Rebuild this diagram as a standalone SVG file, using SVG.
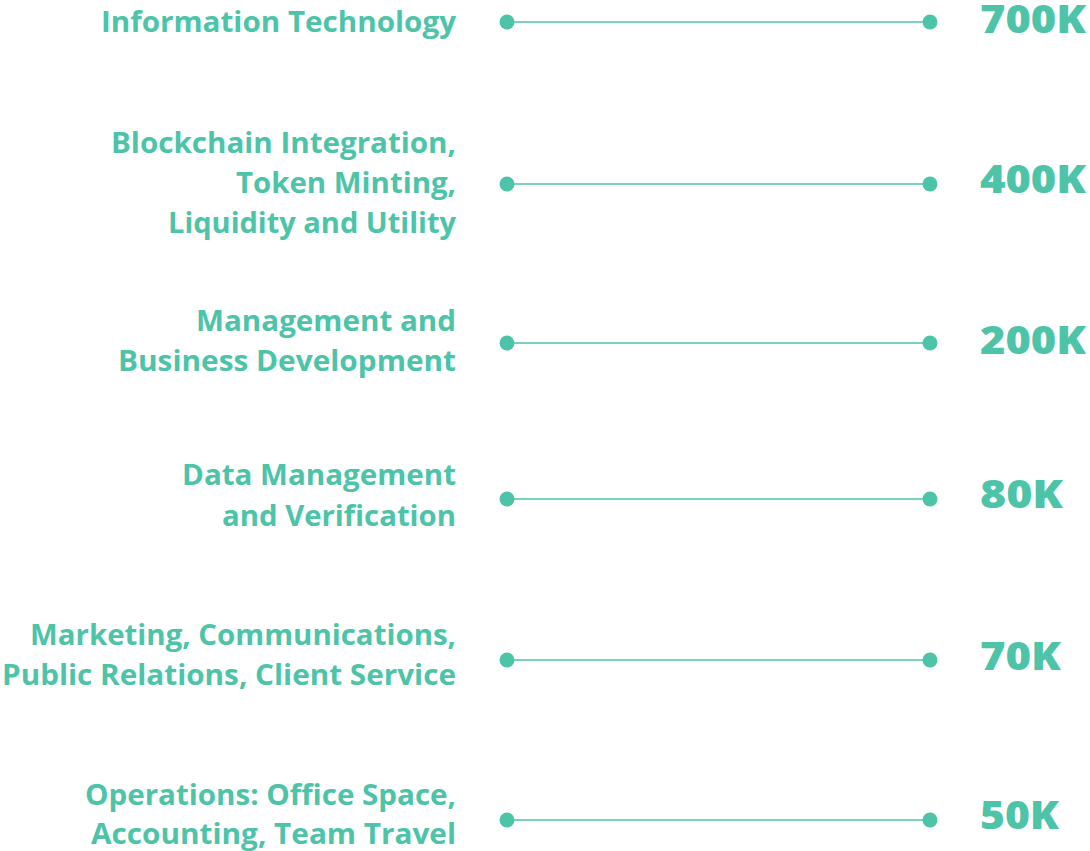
<svg xmlns="http://www.w3.org/2000/svg" width="1090" height="851" viewBox="0 0 1090 851">
<style>
.lbl{font-family:"Open Sans","Liberation Sans",sans-serif;font-weight:700;font-size:28px;fill:#4DC3A8;text-anchor:end}
.val{font-family:"Open Sans","Liberation Sans",sans-serif;font-weight:800;font-size:39px;fill:#4DC3A8}
.ln{stroke:#4DC3A8;stroke-width:1.5;fill:none}
.dot{fill:#4DC3A8}
</style>
<rect width="1090" height="851" fill="#fff"/>
<g id="connectors">
<line class="ln" x1="507" y1="22" x2="930" y2="22"/>
<line class="ln" x1="507" y1="184" x2="930" y2="184"/>
<line class="ln" x1="507" y1="343" x2="930" y2="343"/>
<line class="ln" x1="507" y1="499" x2="930" y2="499"/>
<line class="ln" x1="507" y1="660" x2="930" y2="660"/>
<line class="ln" x1="507" y1="820" x2="930" y2="820"/>
</g>
<g id="row1">
<text class="lbl" x="456" y="32" textLength="355" lengthAdjust="spacingAndGlyphs">Information Technology</text>
<circle class="dot" cx="507" cy="22" r="7.5"/><circle class="dot" cx="930" cy="22" r="7.5"/>
<text class="val" x="980" y="33" textLength="106" lengthAdjust="spacingAndGlyphs">700K</text>
</g>
<g id="row2">
<text class="lbl" x="456" y="153" textLength="345" lengthAdjust="spacingAndGlyphs">Blockchain Integration,</text>
<text class="lbl" x="456" y="193" textLength="220" lengthAdjust="spacingAndGlyphs">Token Minting,</text>
<text class="lbl" x="456" y="233" textLength="288" lengthAdjust="spacingAndGlyphs">Liquidity and Utility</text>
<circle class="dot" cx="507" cy="184" r="7.5"/><circle class="dot" cx="930" cy="184" r="7.5"/>
<text class="val" x="980" y="193" textLength="106" lengthAdjust="spacingAndGlyphs">400K</text>
</g>
<g id="row3">
<text class="lbl" x="456" y="331" textLength="260" lengthAdjust="spacingAndGlyphs">Management and</text>
<text class="lbl" x="456" y="371" textLength="338" lengthAdjust="spacingAndGlyphs">Business Development</text>
<circle class="dot" cx="507" cy="343" r="7.5"/><circle class="dot" cx="930" cy="343" r="7.5"/>
<text class="val" x="980" y="354" textLength="106" lengthAdjust="spacingAndGlyphs">200K</text>
</g>
<g id="row4">
<text class="lbl" x="456" y="485" textLength="274" lengthAdjust="spacingAndGlyphs">Data Management</text>
<text class="lbl" x="456" y="526" textLength="234" lengthAdjust="spacingAndGlyphs">and Verification</text>
<circle class="dot" cx="507" cy="499" r="7.5"/><circle class="dot" cx="930" cy="499" r="7.5"/>
<text class="val" x="980" y="508" textLength="83" lengthAdjust="spacingAndGlyphs">80K</text>
</g>
<g id="row5">
<text class="lbl" x="456" y="645" textLength="426" lengthAdjust="spacingAndGlyphs">Marketing, Communications,</text>
<text class="lbl" x="456" y="685" textLength="454" lengthAdjust="spacingAndGlyphs">Public Relations, Client Service</text>
<circle class="dot" cx="507" cy="660" r="7.5"/><circle class="dot" cx="930" cy="660" r="7.5"/>
<text class="val" x="980" y="670" textLength="81" lengthAdjust="spacingAndGlyphs">70K</text>
</g>
<g id="row6">
<text class="lbl" x="456" y="805" textLength="371" lengthAdjust="spacingAndGlyphs">Operations: Office Space,</text>
<text class="lbl" x="456" y="844" textLength="365" lengthAdjust="spacingAndGlyphs">Accounting, Team Travel</text>
<circle class="dot" cx="507" cy="820" r="7.5"/><circle class="dot" cx="930" cy="820" r="7.5"/>
<text class="val" x="980" y="829" textLength="79" lengthAdjust="spacingAndGlyphs">50K</text>
</g>
</svg>
